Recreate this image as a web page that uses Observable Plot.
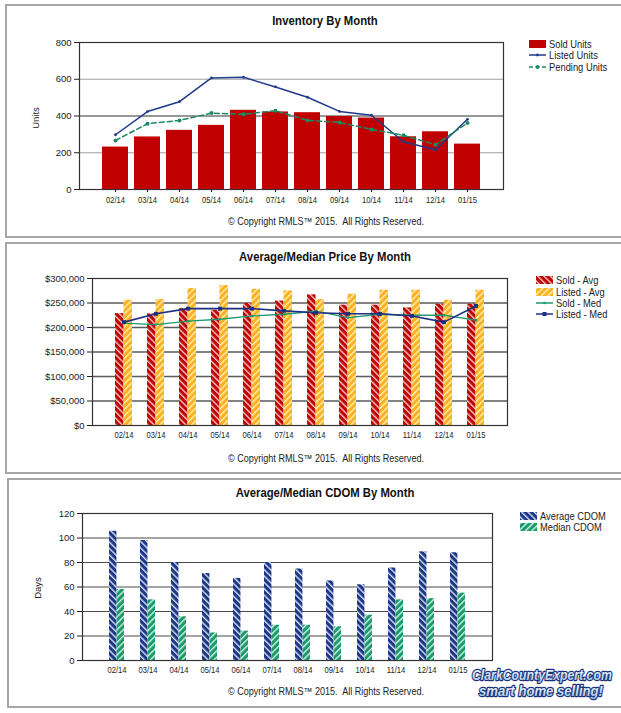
<!DOCTYPE html>
<html><head><meta charset="utf-8">
<script src="https://cdn.jsdelivr.net/npm/d3@7"></script>
<script src="https://cdn.jsdelivr.net/npm/@observablehq/plot@0.6"></script>
<style>
body{margin:0;background:#fff;font-family:"Liberation Sans",Arial,sans-serif;}
#wrap{position:relative;width:621px;height:713px;overflow:hidden;background:#fff}
.panel{position:absolute;border:2px solid #a6a6a6;border-right:none;box-sizing:border-box}
.chart{position:absolute;left:0}
.title{position:absolute;font-weight:bold;font-size:13px;transform:translate(-50%,-50%) scaleX(0.87);white-space:nowrap;color:#111}
.copy{position:absolute;font-size:10.5px;transform:translate(-50%,-50%) scaleX(0.86);white-space:nowrap;color:#222}
.leg{position:absolute;font-size:11px;white-space:nowrap;color:#222;display:flex;align-items:center;transform:translateY(-50%);line-height:11px}
.leg svg{margin-right:3px;flex:none}
.leg span{display:inline-block;transform:scaleX(0.85);transform-origin:left center}
.ylab{position:absolute;font-size:9.5px;transform:translate(-50%,-50%) rotate(-90deg);color:#222;white-space:nowrap}
</style></head>
<body>
<svg width="0" height="0" style="position:absolute">
<defs>
<pattern id="hatchRed" width="4.5" height="4.5" patternUnits="userSpaceOnUse" patternTransform="rotate(-45)"><rect width="4.5" height="4.5" fill="#c00000"/><rect width="1.4" height="4.5" fill="#f6c9c9"/></pattern>
<pattern id="hatchOrange" width="4.5" height="4.5" patternUnits="userSpaceOnUse" patternTransform="rotate(45)"><rect width="4.5" height="4.5" fill="#fbb21c"/><rect width="1.4" height="4.5" fill="#fff0c0"/></pattern>
<pattern id="hatchNavy" width="4.5" height="4.5" patternUnits="userSpaceOnUse" patternTransform="rotate(-45)"><rect width="4.5" height="4.5" fill="#1b3686"/><rect width="1.4" height="4.5" fill="#d8e0f2"/></pattern>
<pattern id="hatchGreen" width="4.5" height="4.5" patternUnits="userSpaceOnUse" patternTransform="rotate(45)"><rect width="4.5" height="4.5" fill="#189a6a"/><rect width="1.4" height="4.5" fill="#d6f2e6"/></pattern>
</defs></svg>
<div id="wrap"></div>
<script>
// ---------- data ----------
const months = ["02/14","03/14","04/14","05/14","06/14","07/14","08/14","09/14","10/14","11/14","12/14","01/15"];

const soldUnits    = [231, 286, 322, 349, 431, 422, 418, 397, 389, 287, 314, 247];
const listedUnits  = [298, 424, 478, 607, 611, 558, 502, 425, 404, 260, 216, 382];
const pendingUnits = [267, 358, 376, 416, 409, 429, 376, 365, 327, 295, 244, 362];
const unitTicks = [0, 200, 400, 600, 800];

const soldAvg   = [228400, 227700, 238600, 235000, 248900, 254000, 266600, 245500, 245500, 240000, 247500, 247500];
const listedAvg = [255700, 257000, 279500, 285700, 278000, 274800, 257000, 268000, 276000, 276000, 255700, 276000];
const soldMed   = [209000, 206000, 213000, 216800, 223600, 227000, 233500, 220000, 227000, 225000, 225000, 215000];
const listedMed = [211000, 228000, 238600, 238600, 238600, 234000, 230000, 228000, 228000, 223600, 211000, 244000];
const priceTicks = [0, 50000, 100000, 150000, 200000, 250000, 300000];

const avgCdom = [105.5, 98, 80, 71, 67, 80, 74.7, 65, 61.8, 75.5, 88.7, 88];
const medCdom = [58, 49.5, 35.7, 22.5, 24, 28.8, 28.8, 27.5, 37, 49.5, 50.5, 55];
const cdomTicks = [0, 20, 40, 60, 80, 100, 120];

const copyrightText = "© Copyright RMLS™ 2015.&nbsp; All Rights Reserved.";

// ---------- helpers ----------
const FONT = '"Liberation Sans",Arial,sans-serif';
const wrap = document.getElementById("wrap");
function addDiv(cls, x, y, html, extra){
  const d = document.createElement("div");
  d.className = cls; d.style.left = x + "px"; d.style.top = y + "px";
  d.innerHTML = html; if (extra) Object.assign(d.style, extra);
  wrap.appendChild(d); return d;
}
function panel(l, t, w, h){ addDiv("panel", l, t, "", {width: w + "px", height: h + "px"}); }
function condenseXTicks(svg){
  svg.querySelectorAll('g[aria-label="x-axis tick label"] text, g[aria-label="x-axis"] text').forEach(t => {
    const len = t.getComputedTextLength();
    if (len > 0){ t.setAttribute("textLength", (len * 0.8).toFixed(2)); t.setAttribute("lengthAdjust", "spacingAndGlyphs"); }
  });
}
function placeChart(svg, top){ svg.classList.add("chart"); svg.style.top = top + "px"; wrap.appendChild(svg); condenseXTicks(svg); }
function sw(inner){ return `<svg width="17" height="9" viewBox="0 0 17 9">${inner}</svg>`; }
function legend(x, ys, items){
  items.forEach((it, i) => addDiv("leg", x, ys[i], sw(it.sw) + `<span>${it.label}</span>`));
}
const style = {fontFamily: FONT, fontSize: "9.5px", color: "#222", background: "transparent", overflow: "visible"};

// ---------- panel 1: inventory ----------
panel(5, 4, 616, 234);
const inv = months.map((m, i) => ({month: m, sold: soldUnits[i], listed: listedUnits[i], pending: pendingUnits[i]}));
const p1 = Plot.plot({
  width: 621, height: 240, marginTop: 42, marginBottom: 51, marginLeft: 79, marginRight: 118,
  style,
  x: {type: "band", domain: months, paddingInner: 0.2, paddingOuter: 0.64, label: null, tickSize: 3, tickPadding: 4},
  y: {domain: [0, 800], ticks: unitTicks, label: null, tickSize: 5, tickPadding: 3},
  marks: [
    Plot.ruleY(unitTicks.filter(v => v === 200 || v === 600), {stroke: "#a0a0a0", strokeWidth: 1.2}),
    Plot.ruleY(unitTicks.filter(v => v === 400), {stroke: "#333", strokeWidth: 1.2}),
    Plot.barY(inv, {x: "month", y: "sold", fill: "#c00000"}),
    Plot.line(inv, {x: "month", y: "listed", stroke: "#1f3a8a", strokeWidth: 1.5}),
    Plot.dot(inv, {x: "month", y: "listed", r: 1.4, fill: "#1f3a8a"}),
    Plot.line(inv, {x: "month", y: "pending", stroke: "#1a8a62", strokeWidth: 1.5, strokeDasharray: "5,3"}),
    Plot.dot(inv, {x: "month", y: "pending", r: 2, fill: "#1a8a62"}),
    Plot.frame({stroke: "#333", strokeWidth: 1.2})
  ]
});
placeChart(p1, 0);
addDiv("title", 325, 20, "Inventory By Month");
addDiv("copy", 326, 221, copyrightText);
addDiv("ylab", 35, 118, "Units");
legend(529, [43.5, 55, 67], [
  {label: "Sold Units", sw: '<rect x="0" y="0.5" width="17" height="8" fill="#c00000"/>'},
  {label: "Listed Units", sw: '<line x1="0" x2="17" y1="4.5" y2="4.5" stroke="#1f3a8a" stroke-width="1.5"/><circle cx="8.5" cy="4.5" r="1.4" fill="#1f3a8a"/>'},
  {label: "Pending Units", sw: '<line x1="0" x2="17" y1="4.5" y2="4.5" stroke="#1a8a62" stroke-width="1.5" stroke-dasharray="4,2.5"/><circle cx="8.5" cy="4.5" r="2" fill="#1a8a62"/>'}
]);

// ---------- panel 2: price ----------
panel(5, 242, 616, 232);
const price = months.map((m, i) => ({month: m, soldAvg: soldAvg[i], listedAvg: listedAvg[i], soldMed: soldMed[i], listedMed: listedMed[i]}));
const p2opts = {width: 621, height: 232, marginTop: 38, marginBottom: 47, marginLeft: 92, marginRight: 114};
const x2 = {type: "band", domain: months, paddingInner: 0.47, paddingOuter: 0.71};
const bw2 = Plot.scale({x: {...x2, range: [p2opts.marginLeft, p2opts.width - p2opts.marginRight]}}).bandwidth;
const p2 = Plot.plot({
  ...p2opts, style,
  x: {...x2, label: null, tickSize: 0, tickPadding: 6},
  y: {domain: [0, 300000], ticks: priceTicks, tickFormat: d3.format("$,"), label: null, tickSize: 5, tickPadding: 3},
  marks: [
    Plot.ruleY(priceTicks.filter(v => v > 0 && v < 300000), {stroke: "#5a5a5a", strokeWidth: 1.5}),
    Plot.barY(price, {x: "month", y: "soldAvg", fill: "url(#hatchRed)", insetRight: bw2 / 2}),
    Plot.barY(price, {x: "month", y: "listedAvg", fill: "url(#hatchOrange)", insetLeft: bw2 / 2}),
    Plot.line(price, {x: "month", y: "soldMed", stroke: "#1e9a6e", strokeWidth: 1.3}),
    Plot.dot(price, {x: "month", y: "soldMed", r: 1.3, fill: "#1e9a6e"}),
    Plot.line(price, {x: "month", y: "listedMed", stroke: "#1c2f80", strokeWidth: 1.6}),
    Plot.dot(price, {x: "month", y: "listedMed", symbol: "square", r: 2.2, fill: "#1c2f80"}),
    Plot.frame({stroke: "#333", strokeWidth: 1.2})
  ]
});
placeChart(p2, 240);
addDiv("title", 325, 256, "Average/Median Price By Month");
addDiv("copy", 326, 458, copyrightText);
legend(536, [280, 292, 303, 314], [
  {label: "Sold - Avg", sw: '<rect x="0" y="0.5" width="17" height="8" fill="url(#hatchRed)"/>'},
  {label: "Listed - Avg", sw: '<rect x="0" y="0.5" width="17" height="8" fill="url(#hatchOrange)"/>'},
  {label: "Sold - Med", sw: '<line x1="0" x2="17" y1="4.5" y2="4.5" stroke="#1e9a6e" stroke-width="1.5"/><circle cx="8.5" cy="4.5" r="1.3" fill="#1e9a6e"/>'},
  {label: "Listed - Med", sw: '<line x1="0" x2="17" y1="4.5" y2="4.5" stroke="#1c2f80" stroke-width="1.6"/><rect x="6.5" y="2.5" width="4" height="4" fill="#1c2f80"/>'}
]);

// ---------- panel 3: CDOM ----------
panel(7, 478, 614, 230);
const cdom = months.map((m, i) => ({month: m, avg: avgCdom[i], med: medCdom[i]}));
const p3opts = {width: 621, height: 241, marginTop: 41, marginBottom: 53, marginLeft: 82, marginRight: 129};
const x3 = {type: "band", domain: months, paddingInner: 0.52, paddingOuter: 0.76};
const bw3 = Plot.scale({x: {...x3, range: [p3opts.marginLeft, p3opts.width - p3opts.marginRight]}}).bandwidth;
const p3 = Plot.plot({
  ...p3opts, style,
  x: {...x3, label: null, tickSize: 0, tickPadding: 6},
  y: {domain: [0, 120], ticks: cdomTicks, label: null, tickSize: 5, tickPadding: 3},
  marks: [
    Plot.ruleY(cdomTicks.filter(v => v > 0 && v < 120), {stroke: "#4a4a4a", strokeWidth: 1.2}),
    Plot.barY(cdom, {x: "month", y: "avg", fill: "url(#hatchNavy)", insetRight: bw3 / 2}),
    Plot.barY(cdom, {x: "month", y: "med", fill: "url(#hatchGreen)", insetLeft: bw3 / 2}),
    Plot.frame({stroke: "#333", strokeWidth: 1.2})
  ]
});
placeChart(p3, 472);
addDiv("title", 325, 492, "Average/Median CDOM By Month");
addDiv("copy", 326, 691, copyrightText);
addDiv("ylab", 37, 588, "Days");
legend(520, [516, 527], [
  {label: "Average CDOM", sw: '<rect x="0" y="0.5" width="17" height="8" fill="url(#hatchNavy)"/>'},
  {label: "Median CDOM", sw: '<rect x="0" y="0.5" width="17" height="8" fill="url(#hatchGreen)"/>'}
]);

// ---------- logo ----------
const logo = document.createElementNS("http://www.w3.org/2000/svg", "svg");
logo.setAttribute("width", 150); logo.setAttribute("height", 38);
logo.style.position = "absolute"; logo.style.left = "469px"; logo.style.top = "665px";
logo.innerHTML = `
 <defs><linearGradient id="lg" x1="0" y1="0" x2="0" y2="1"><stop offset="0" stop-color="#ffffff"/><stop offset="1" stop-color="#9fc0ea"/></linearGradient></defs>
 <g font-family="Liberation Sans, Arial, sans-serif" font-weight="bold" font-style="italic" paint-order="stroke" stroke="#17327a" stroke-width="2.4" stroke-linejoin="round" fill="url(#lg)">
  <text id="logo1" font-size="14">ClarkCountyExpert.com</text>
  <text id="logo2" font-size="14">smart home selling!</text>
 </g>`;
wrap.appendChild(logo);
// squeeze each logo line to its width in the reference with a transform
[["logo1", 3, 15, 140], ["logo2", 10, 31, 124]].forEach(([id, x, y, w]) => {
  const t = logo.querySelector("#" + id);
  const k = w / t.getComputedTextLength();
  t.setAttribute("transform", `translate(${x},${y}) scale(${k.toFixed(3)},1)`);
});
</script>
</body></html>
